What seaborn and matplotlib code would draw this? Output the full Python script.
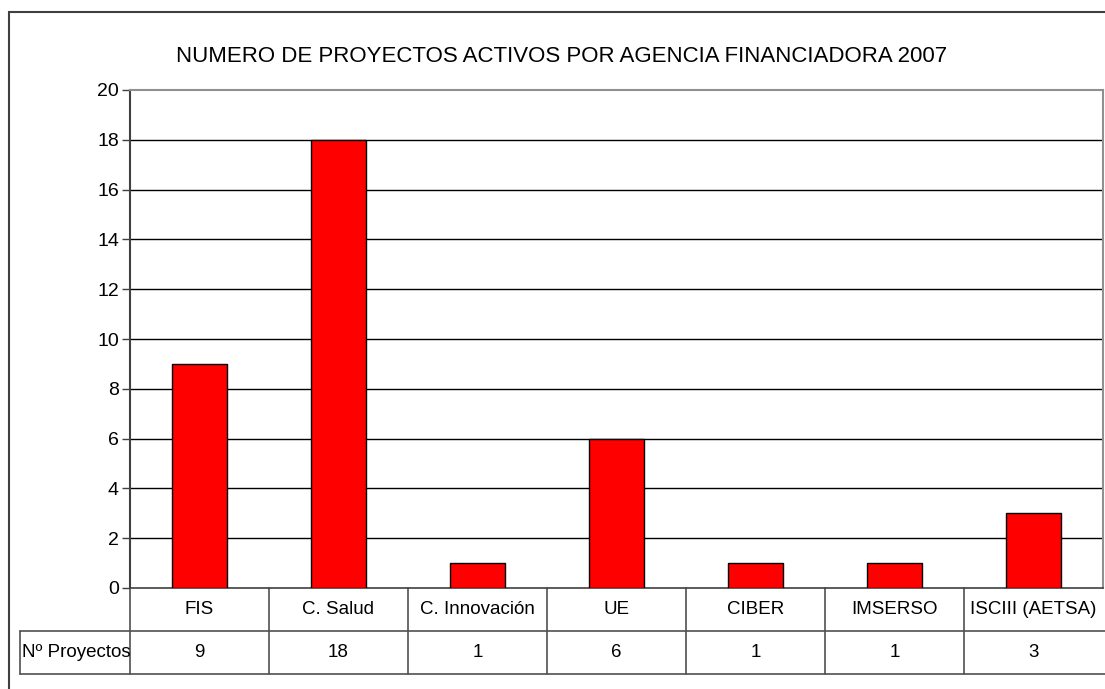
import numpy as np
import pandas as pd
import matplotlib
matplotlib.use('Agg')
import matplotlib.pyplot as plt
import matplotlib.patches as mpatches
import matplotlib.transforms as mtransforms
from matplotlib.lines import Line2D
import seaborn as sns

# Data
agencias = ['FIS', 'C. Salud', 'C. Innovación', 'UE', 'CIBER', 'IMSERSO', 'ISCIII (AETSA)']
proyectos = [9, 18, 1, 6, 1, 1, 3]
fila_label = 'Nº Proyectos'
titulo = 'NUMERO DE PROYECTOS ACTIVOS POR AGENCIA FINANCIADORA 2007'

df = pd.DataFrame({'Agencia': agencias, 'Proyectos': proyectos})

sns.set_style('white')
plt.rcParams['font.family'] = ['Liberation Sans Narrow', 'Liberation Sans', 'DejaVu Sans']
plt.rcParams['text.color'] = 'black'
plt.rcParams['ytick.labelcolor'] = 'black'

W, H = 1105, 689
fig = plt.figure(figsize=(W / 100, H / 100), dpi=100)

def fx(px):
    return px / W

def fy(py):
    return 1 - py / H

# outer chart border (right/bottom edges fall outside the image)
fig.patches.append(mpatches.Rectangle((fx(9), -0.1), 1.2, fy(12) + 0.1,
                                      transform=fig.transFigure, fill=False,
                                      edgecolor='#404040', linewidth=1.5))

left, right, top, bottom = 130, 1103, 90, 588
ax = fig.add_axes([fx(left), fy(bottom), fx(right - left), (bottom - top) / H])

sns.barplot(data=df, x='Agencia', y='Proyectos', color='#ff0000', saturation=1,
            edgecolor='black', linewidth=1, width=0.4, ax=ax, zorder=3)

ax.set_ylim(0, 20)
ax.set_xlim(-0.5, len(agencias) - 0.5)
ax.set_yticks(range(0, 21, 2))
ax.tick_params(axis='y', labelsize=14, length=6, width=1, color='#404040',
               labelcolor='black', left=True, pad=2)
ax.set_xticks([])
ax.set_xlabel('')
ax.set_ylabel('')
for yv in range(2, 20, 2):
    ax.axhline(yv, color='black', linewidth=1, zorder=1)

ax.spines['left'].set_color('#404040')
ax.spines['left'].set_linewidth(1.5)
ax.spines['right'].set_color('#909090')
ax.spines['right'].set_linewidth(1.5)
ax.spines['top'].set_color('#909090')
ax.spines['top'].set_linewidth(1.5)
ax.spines['bottom'].set_color('#404040')
ax.spines['bottom'].set_linewidth(1.2)

# data table below the plot
row1, row2 = 631, 674
grid_c = '#505050'
for yy in (row1, row2):
    fig.add_artist(Line2D([fx(20), 1.1], [fy(yy), fy(yy)], color=grid_c, lw=1.2))
fig.add_artist(Line2D([fx(20), fx(20)], [fy(row1), fy(row2)], color=grid_c, lw=1.2))

trans = mtransforms.blended_transform_factory(ax.transData, fig.transFigure)
for k in range(len(agencias)):
    xb = k - 0.5
    ax.add_line(Line2D([xb, xb], [fy(bottom), fy(row2)], transform=trans,
                       color=grid_c, lw=1.2, clip_on=False))
    ax.text(k, fy((bottom + row1) / 2), agencias[k], transform=trans,
            ha='center', va='center', fontsize=13.5, color='black')
    ax.text(k, fy((row1 + row2) / 2), str(proyectos[k]), transform=trans,
            ha='center', va='center', fontsize=13.5, color='black')

fig.text(fx(22), fy((row1 + row2) / 2), fila_label, ha='left', va='center',
         fontsize=13.5, color='black')

fig.text(fx(562), fy(57), titulo, ha='center', va='center', fontsize=16, color='black')

fig.savefig('out.png', dpi=100)
